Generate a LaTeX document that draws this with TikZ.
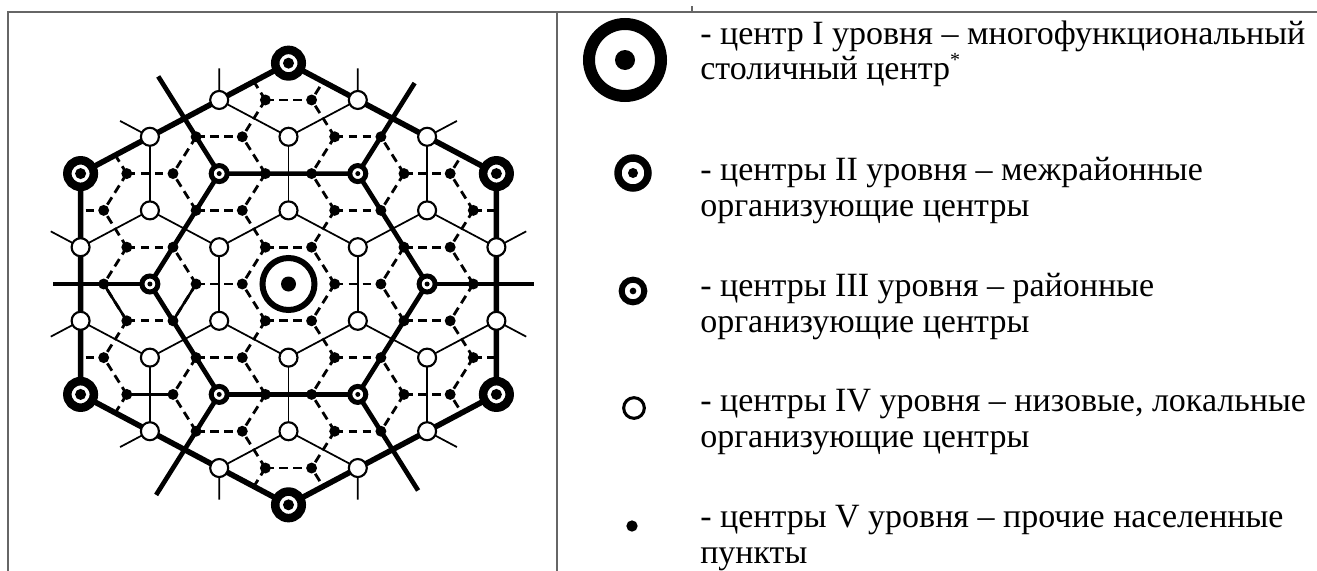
\documentclass[tikz,border=0pt]{standalone}
\usepackage{fontspec}
\setmainfont{Liberation Serif}
\usetikzlibrary{calc}
\begin{document}
\begin{tikzpicture}[x=0.75pt,y=-0.75pt,
  frame/.style={draw=black!60, line width=0.8pt},
  lab/.style={anchor=base west, inner sep=0pt, font=\fontsize{25.5pt}{27pt}\selectfont},
  dashline/.style={line width=2.1pt, dash pattern=on 6.5pt off 4pt},
  thinline/.style={line width=1.3pt},
  solidrep/.style={line width=1.9pt},
  thickline/.style={line width=3.5pt, line join=round},
  outerline/.style={line width=4.2pt, line join=round},
  lvV/.style={circle, fill=black, inner sep=0pt, minimum size=8.2pt},
  lvIV/.style={circle, draw=black, fill=white, line width=1.6pt, inner sep=0pt, minimum size=13.5pt},
  lvIII/.style={circle, draw=black, fill=white, line width=3.75pt, inner sep=0pt, minimum size=12pt},
  lvII/.style={circle, draw=black, fill=white, line width=6.4pt, inner sep=0pt, minimum size=19.9pt},
  lvI/.style={circle, draw=black, fill=white, line width=4.5pt, inner sep=0pt, minimum size=39pt},
  dot/.style={circle, fill=black, inner sep=0pt},
]
\useasboundingbox (0,0) rectangle (1317,571);
% frame
\draw[frame] (8,571) -- (8,12) -- (1317,12);
\draw[frame] (557,12) -- (557,571);
\draw[frame] (692,6) -- (692,12);

% lattice coordinates
\begin{scope}[shift={(288.5,284)}, x={(34.65pt,0pt)}, y={(0pt,31.875pt)}]
  \foreach \i in {-10,...,10}{
    \foreach \j in {-8,...,8}{
      \coordinate (p\i_\j) at ({\i+0.5*(\j)},{0.8660254*(\j)});
    }
  }
\end{scope}

% dashed boundaries (level IV areas)
\begin{scope}
  \clip (p-3_6) -- (p3_3) -- (p6_-3) -- (p3_-6) -- (p-3_-3) -- (p-6_3) -- cycle;
  \foreach \i in {-8,...,8}{
    \foreach \j in {-7,...,7}{
      \pgfmathtruncatemacro\t{mod(\i-(\j)+30,3)}
      \ifnum\t=1
        \pgfmathtruncatemacro\ip{\i+1}
        \pgfmathtruncatemacro\im{\i-1}
        \pgfmathtruncatemacro\jp{\j+1}
        \pgfmathtruncatemacro\jm{\j-1}
        \draw[dashline] (p\i_\j) -- (p\ip_\j);
        \draw[dashline] (p\i_\j) -- (p\im_\jp);
        \draw[dashline] (p\i_\j) -- (p\i_\jm);
      \fi
    }
  }
\end{scope}
% solid segments in place of dashes
\draw[solidrep] (p-4_0) -- (p-3_-1);
\draw[solidrep] (p-2_-1) -- (p-2_0);
\draw[solidrep] (p-2_-3) -- (p-1_-3);

% thin boundaries (level III areas)
\begin{scope}
  \clip (p-3_6) -- (p3_3) -- (p6_-3) -- (p3_-6) -- (p-3_-3) -- (p-6_3) -- cycle;
  \foreach \i in {-8,...,8}{
    \foreach \j in {-7,...,7}{
      \pgfmathtruncatemacro\t{mod(\i-(\j)+30,3)}
      \pgfmathtruncatemacro\ti{mod(\i+30,3)}
      \ifnum\t=0 \ifnum\ti=1
        \pgfmathtruncatemacro\ip{\i+1}
        \pgfmathtruncatemacro\imm{\i-2}
        \pgfmathtruncatemacro\jp{\j+1}
        \pgfmathtruncatemacro\jmm{\j-2}
        \draw[thinline] (p\i_\j) -- (p\ip_\jp);
        \draw[thinline] (p\i_\j) -- (p\imm_\jp);
        \draw[thinline] (p\i_\j) -- (p\ip_\jmm);
      \fi\fi
    }
  }
\end{scope}
% outward stubs
\foreach \a/\b in {-1_5/-2_7, 1_4/2_5, 4_1/5_2, 5_-1/7_-2, 5_-4/7_-5, 4_-5/5_-7,
                   1_-5/2_-7, -1_-4/-2_-5, -4_-1/-5_-2, -5_1/-7_2, -5_4/-7_5, -4_5/-5_7}{
  \draw[thinline] (p\a) -- ($(p\a)!0.43!(p\b)$);
}

% thick: area of the capital, spokes
\draw[thickline] (p3_0) -- (p0_3) -- (p-3_3) -- (p-3_0) -- (p0_-3) -- (p3_-3) -- cycle;
\coordinate (e1) at ($(p3_0)!0.77!(p6_0)$);
\coordinate (e2) at ($(p0_3)!0.82!(p0_6)$);
\coordinate (e3) at ($(p-3_3)!0.88!(p-6_6)$);
\coordinate (e4) at ($(p-3_0)!0.70!(p-6_0)$);
\coordinate (e5) at ($(p0_-3)!0.91!(p0_-6)$);
\coordinate (e6) at ($(p3_-3)!0.87!(p6_-6)$);
\draw[thickline] (p3_0) -- (e1);
\draw[thickline] (p0_3) -- (e2);
\draw[thickline] (p-3_3) -- (e3);
\draw[thickline] (p-3_0) -- (e4);
\draw[thickline] (p0_-3) -- (e5);
\draw[thickline] (p3_-3) -- (e6);
% outer hexagon
\draw[outerline] (p-3_6) -- (p3_3) -- (p6_-3) -- (p3_-6) -- (p-3_-3) -- (p-6_3) -- cycle;

% level IV and V centres
\foreach \i in {-8,...,8}{
  \foreach \j in {-7,...,7}{
    \pgfmathsetmacro\X{\i+0.5*(\j)}
    \pgfmathsetmacro\Y{0.8660254*(\j)}
    \pgfmathtruncatemacro\ins{and(abs(\X)<4.51, abs(\Y)+0.57735*abs(\X)<5.21)}
    \pgfmathtruncatemacro\t{mod(\i-(\j)+30,3)}
    \pgfmathtruncatemacro\ti{mod(\i+30,3)}
    \ifnum\ins=1
      \ifnum\t=0
        \ifnum\ti=0 \else \node[lvIV] (c\i_\j) at (p\i_\j) {}; \fi
      \else
        \node[lvV] (c\i_\j) at (p\i_\j) {};
      \fi
    \fi
  }
}
% level III
\foreach \a in {3_0, 0_3, -3_3, -3_0, 0_-3, 3_-3}{
  \node[lvIII] (t\a) at (p\a) {};
  \node[dot, minimum size=3.75pt] (td\a) at (p\a) {};
}
% level II
\foreach \a in {-3_6, 3_3, 6_-3, 3_-6, -3_-3, -6_3}{
  \node[lvII] (s\a) at (p\a) {};
  \node[dot, minimum size=8.25pt] (sd\a) at (p\a) {};
}
% level I
\node[lvI] (cap) at (p0_0) {};
\node[dot, minimum size=11.25pt] (capd) at (p0_0) {};

% legend symbols
\node[circle, draw=black, fill=white, line width=9pt, inner sep=0pt, minimum size=54pt] (L1) at (625,60) {};
\node[dot, minimum size=15pt] (L1d) at (625,60) {};
\node[circle, draw=black, fill=white, line width=5.6pt, inner sep=0pt, minimum size=22.5pt] (L2) at (633,173) {};
\node[dot, minimum size=7.5pt] (L2d) at (633,173) {};
\node[circle, draw=black, fill=white, line width=4.5pt, inner sep=0pt, minimum size=17pt] (L3) at (633,291) {};
\node[dot, minimum size=5pt] (L3d) at (633,291) {};
\node[circle, draw=black, fill=white, line width=2.3pt, inner sep=0pt, minimum size=15.5pt] (L4) at (634,408) {};
\node[dot, minimum size=8.5pt] (L5) at (632,526) {};

% legend texts
\node[lab] (t1a) at (700,44) {- центр I уровня – многофункциональный};
\node[lab] (t1b) at (700,79) {столичный центр\raisebox{9.5pt}{\fontsize{15pt}{15pt}\selectfont *}};
\node[lab] (t2a) at (700,180) {- центры II уровня – межрайонные};
\node[lab] (t2b) at (700,216) {организующие центры};
\node[lab] (t3a) at (700,296) {- центры III уровня – районные};
\node[lab] (t3b) at (700,332) {организующие центры};
\node[lab] (t4a) at (700,411) {- центры IV уровня – низовые, локальные};
\node[lab] (t4b) at (700,447) {организующие центры};
\node[lab] (t5a) at (700,527) {- центры V уровня – прочие населенные};
\node[lab] (t5b) at (700,563) {пункты};
\end{tikzpicture}
\end{document}
